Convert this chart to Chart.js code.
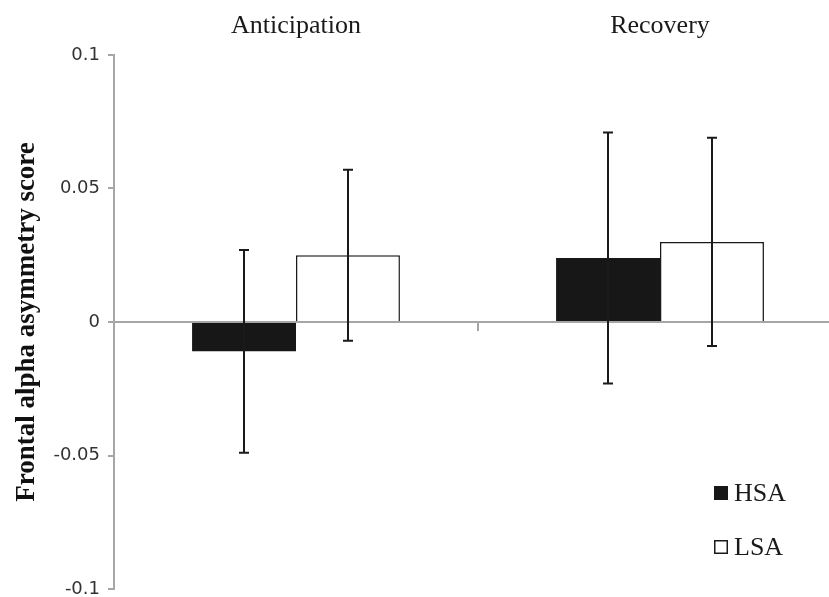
<!DOCTYPE html>
<html>
<head>
<meta charset="utf-8">
<script src="https://cdn.jsdelivr.net/npm/chart.js@4/dist/chart.umd.min.js"></script>
<style>
  html, body { margin: 0; padding: 0; background: #ffffff; overflow: hidden; }
  #wrap { width: 829px; height: 597px; overflow: hidden; }
</style>
</head>
<body>
<div id="wrap"><canvas id="chart" width="842" height="597"></canvas></div>
<script>
// Phases and group means of frontal alpha asymmetry
const phases = ['Anticipation', 'Recovery'];
const hsaMeans = [-0.011, 0.024];
const lsaMeans = [0.025, 0.030];
// Error bar half-lengths (± around the mean)
const hsaErrors = [0.038, 0.047];
const lsaErrors = [0.032, 0.039];
// Value axis labels, bottom to top
const yTickLabels = ['-0.1', '-0.05', '0', '0.05', '0.1'];

const AXIS_GREY = '#a6a6a6';
const SERIF = '"Liberation Serif", "Times New Roman", serif';

// Vertical error bars with caps, centred on each bar
const errorBars = {
  id: 'errorBars',
  afterDatasetsDraw(chart) {
    const ctx = chart.ctx;
    const yScale = chart.scales.y;
    ctx.save();
    ctx.strokeStyle = '#1a1a1a';
    ctx.lineWidth = 2;
    chart.data.datasets.forEach((ds, di) => {
      const meta = chart.getDatasetMeta(di);
      meta.data.forEach((bar, i) => {
        const v = ds.data[i];
        const e = ds.errors[i];
        const yTop = yScale.getPixelForValue(v + e);
        const yBot = yScale.getPixelForValue(v - e);
        const x = Math.round(bar.x);
        ctx.beginPath();
        ctx.moveTo(x, yTop);
        ctx.lineTo(x, yBot);
        ctx.moveTo(x - 5, yTop);
        ctx.lineTo(x + 5, yTop);
        ctx.moveTo(x - 5, yBot);
        ctx.lineTo(x + 5, yBot);
        ctx.stroke();
      });
    });
    ctx.restore();
  }
};

// Legend placed inside the plot, lower right
const insideLegend = {
  id: 'insideLegend',
  afterDraw(chart) {
    const ctx = chart.ctx;
    const area = chart.chartArea;
    const x0 = area.right - 128;
    const rows = [area.bottom - 96, area.bottom - 42];
    ctx.save();
    ctx.font = '26px ' + SERIF;
    ctx.textBaseline = 'middle';
    ctx.textAlign = 'left';
    chart.data.datasets.forEach((ds, i) => {
      const cy = rows[i];
      ctx.fillStyle = ds.backgroundColor;
      ctx.fillRect(x0, cy - 7, 14, 14);
      if (ds.backgroundColor === '#ffffff') {
        ctx.strokeStyle = '#1a1a1a';
        ctx.lineWidth = 1.5;
        ctx.strokeRect(x0 + 0.75, cy - 6.25, 12.5, 12.5);
      }
      ctx.fillStyle = '#1a1a1a';
      ctx.fillText(ds.label, x0 + 20, cy + 1);
    });
    ctx.restore();
  }
};

new Chart(document.getElementById('chart'), {
  type: 'bar',
  data: {
    labels: phases,
    datasets: [
      {
        label: 'HSA',
        data: hsaMeans,
        errors: hsaErrors,
        backgroundColor: '#171717',
        borderColor: '#171717',
        borderWidth: 0,
        categoryPercentage: 0.571,
        barPercentage: 1.0
      },
      {
        label: 'LSA',
        data: lsaMeans,
        errors: lsaErrors,
        backgroundColor: '#ffffff',
        borderColor: '#1a1a1a',
        borderWidth: 1.5,
        categoryPercentage: 0.571,
        barPercentage: 1.0
      }
    ]
  },
  options: {
    responsive: false,
    animation: false,
    layout: { padding: { top: 0, left: 0, right: 0, bottom: 0 } },
    plugins: {
      legend: { display: false },
      tooltip: { enabled: false }
    },
    scales: {
      x: {
        type: 'category',
        position: 'top',
        offset: true,
        afterFit(scale) { scale.height = 55; },
        grid: { display: false },
        border: { display: false },
        ticks: {
          padding: 5,
          color: '#1a1a1a',
          font: { family: SERIF, size: 26 }
        }
      },
      x2: {
        type: 'category',
        labels: phases,
        position: { y: 0 },
        offset: true,
        z: 1,
        afterFit(scale) { scale.height = 0; },
        grid: {
          offset: true,
          drawOnChartArea: false,
          drawTicks: true,
          tickLength: 8,
          color: AXIS_GREY,
          lineWidth: 2
        },
        border: { display: true, color: AXIS_GREY, width: 2 },
        ticks: { display: false }
      },
      y: {
        min: -0.1,
        max: 0.1,
        afterFit(scale) {
          scale.width = 114;
          scale.paddingBottom = 8;
        },
        ticks: {
          stepSize: 0.05,
          padding: 8,
          color: '#333333',
          font: { family: '"DejaVu Sans", sans-serif', size: 18, lineHeight: 0.9 },
          callback: (v, i) => yTickLabels[i]
        },
        grid: {
          drawOnChartArea: false,
          drawTicks: true,
          tickLength: 6,
          color: AXIS_GREY,
          lineWidth: 2
        },
        border: { display: true, color: AXIS_GREY, width: 2 },
        title: {
          display: true,
          text: 'Frontal alpha asymmetry score',
          color: '#111111',
          padding: { top: 11, bottom: 0 },
          font: { family: SERIF, size: 27, weight: 'bold' }
        }
      }
    }
  },
  plugins: [errorBars, insideLegend]
});
</script>
</body>
</html>
